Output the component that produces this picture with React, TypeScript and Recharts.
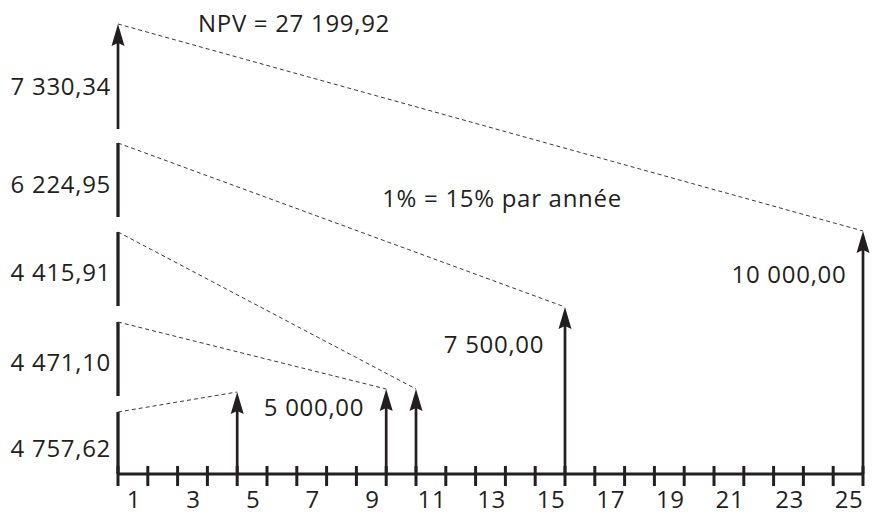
import { ComposedChart, XAxis, YAxis, ReferenceLine } from 'recharts';

// cash flows (period, amount) and their present values
const periods = [4, 9, 10, 15, 25];
const cashFlows = [5000, 5000, 5000, 7500, 10000];
const presentValues = [4757.62, 4471.1, 4415.91, 6224.95, 7330.34];
const npv = 27199.92;
const rateNote = '1% = 15% par année';

// the picture is a schematic: drawn heights in the diagram's own units
const arrowHeights = [82, 85, 85, 167, 243];
const pvBottoms = [0, 78, 168, 257, 345];
const pvTops = [62, 152, 242, 331, 450];

const tickValues = [0, 1, 2, 3, 4, 5, 6, 7, 8, 9, 10, 11, 12, 13, 14, 15, 16, 17, 18, 19, 20, 21, 22, 23, 24, 25];
const labelTicks = [0.5, 2.5, 4.5, 6.5, 8.5, 10.5, 12.5, 14.5, 16.5, 18.5, 20.5, 22.5, 24.5];
const labelTexts = ['1', '3', '5', '7', '9', '11', '13', '15', '17', '19', '21', '23', '25'];

const INK = '#231f20';
const FONT = '"Open Sans", sans-serif';

const flows = periods.map((t, i) => ({ x: t, y: arrowHeights[i], amount: cashFlows[i] }));

function frNumber(v: number) {
  const [int, dec] = v.toFixed(2).split('.');
  return int.replace(/\B(?=(\d{3})+$)/g, ' ') + ',' + dec;
}

function TickMark(props: any) {
  const { x, y } = props;
  return <line x1={x} x2={x} y1={y - 8} y2={y + 12} stroke={INK} strokeWidth={3} />;
}

function PeriodLabel(props: any) {
  const { x, y, payload } = props;
  const i = labelTicks.indexOf(payload.value);
  return (
    <text x={x + 1} y={y + 33} textAnchor="middle" fontFamily={FONT} fontSize={24} letterSpacing={0.6} fill={INK}>
      {labelTexts[i]}
    </text>
  );
}

function Arrow(props: any) {
  const { x1, y1, x2, y2 } = props;
  const head = 22;
  const half = 6.5;
  return (
    <g>
      <line x1={x1} y1={y1} x2={x2} y2={y2 + head - 4} stroke={INK} strokeWidth={2.7} />
      <path
        d={`M${x2},${y2} L${x2 + half},${y2 + head} L${x2},${y2 + head - 3} L${x2 - half},${y2 + head} Z`}
        fill={INK}
      />
    </g>
  );
}

const txt = { fontFamily: FONT, fontSize: 24, fill: INK, letterSpacing: 0.7 } as const;
const pvBaselines = [457, 371, 281, 193, 95];

export default function App() {
  return (
    <div style={{ position: 'absolute', left: 0, top: 0, width: 873, height: 518, background: '#fff' }}>
      <ComposedChart
        width={873}
        height={518}
        data={flows}
        margin={{ top: 24, right: 10, left: 118, bottom: 0 }}
      >
        <XAxis
          type="number"
          dataKey="x"
          domain={[0, 25]}
          allowDataOverflow
          ticks={tickValues}
          interval={0}
          height={1}
          tickSize={0}
          tickMargin={0}
          tickLine={false}
          axisLine={{ stroke: INK, strokeWidth: 3.2 }}
          tick={<TickMark />}
        />
        <XAxis
          xAxisId="lbl"
          type="number"
          dataKey="x"
          domain={[0, 25]}
          allowDataOverflow
          ticks={labelTicks}
          interval={0}
          height={43}
          tickSize={0}
          tickMargin={0}
          tickLine={false}
          axisLine={false}
          tick={<PeriodLabel />}
        />
        <YAxis hide type="number" dataKey="y" domain={[0, 450]} allowDataOverflow />

        {presentValues.map((v, i) =>
          i === presentValues.length - 1 ? (
            <ReferenceLine
              key={'pv' + i}
              ifOverflow="visible"
              segment={[{ x: 0, y: pvBottoms[i] }, { x: 0, y: pvTops[i] }]}
              stroke={INK}
              shape={(p: any) => <Arrow {...p} />}
            />
          ) : (
            <ReferenceLine
              key={'pv' + i}
              ifOverflow="visible"
              segment={[{ x: 0, y: pvBottoms[i] }, { x: 0, y: pvTops[i] }]}
              stroke={INK}
              strokeWidth={3.3}
            />
          )
        )}

        {periods.map((t, i) => (
          <ReferenceLine
            key={'dash' + i}
            ifOverflow="visible"
            segment={[{ x: 0, y: pvTops[i] }, { x: t, y: arrowHeights[i] }]}
            stroke="#3a3a3a"
            strokeWidth={1}
            strokeDasharray="4 3"
          />
        ))}

        {periods.map((t, i) => (
          <ReferenceLine
            key={'cf' + i}
            ifOverflow="visible"
            segment={[{ x: t, y: 0 }, { x: t, y: arrowHeights[i] }]}
            stroke={INK}
            shape={(p: any) => <Arrow {...p} />}
          />
        ))}

        <text x={294} y={32} textAnchor="middle" {...txt}>
          {'NPV = ' + frNumber(npv)}
        </text>
        <text x={502} y={207} textAnchor="middle" {...txt}>
          {rateNote}
        </text>
        {presentValues.map((v, i) => (
          <text key={'pvl' + i} x={111} y={pvBaselines[i]} textAnchor="end" {...txt}>
            {frNumber(v)}
          </text>
        ))}
        <text x={314} y={416} textAnchor="middle" {...txt}>
          {frNumber(cashFlows[0])}
        </text>
        <text x={494} y={353} textAnchor="middle" {...txt}>
          {frNumber(cashFlows[3])}
        </text>
        <text x={789} y={283} textAnchor="middle" {...txt}>
          {frNumber(cashFlows[4])}
        </text>
      </ComposedChart>
    </div>
  );
}
